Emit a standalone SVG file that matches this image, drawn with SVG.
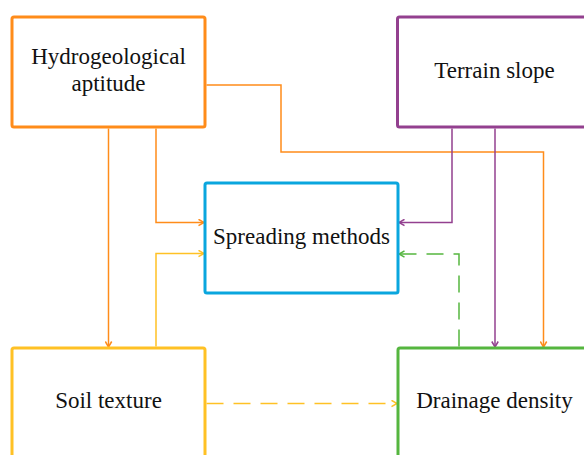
<svg xmlns="http://www.w3.org/2000/svg" width="584" height="455" viewBox="0 0 584 455">
<style>
.box{fill:#fff;stroke-width:3}
.lbl{font-family:"Liberation Serif","Times New Roman",serif;font-size:23px;fill:#111;text-anchor:middle}
.c{fill:none;stroke-width:1.5}
.d{stroke-dasharray:17 10}
.or{stroke:#FF8C1A}.pu{stroke:#93408F}.ye{stroke:#FFC125}.gr{stroke:#55B63F}
</style>
<defs>
<marker id="aor" viewBox="0 0 8 8" markerWidth="8" markerHeight="8" refX="7" refY="4" orient="auto" markerUnits="userSpaceOnUse"><path d="M1.5,0.8 L7,4 L1.5,7.2" fill="none" stroke="#FF8C1A" stroke-width="1.5"/></marker>
<marker id="apu" viewBox="0 0 8 8" markerWidth="8" markerHeight="8" refX="7" refY="4" orient="auto" markerUnits="userSpaceOnUse"><path d="M1.5,0.8 L7,4 L1.5,7.2" fill="none" stroke="#93408F" stroke-width="1.5"/></marker>
<marker id="aye" viewBox="0 0 8 8" markerWidth="8" markerHeight="8" refX="7" refY="4" orient="auto" markerUnits="userSpaceOnUse"><path d="M1.5,0.8 L7,4 L1.5,7.2" fill="none" stroke="#FFC125" stroke-width="1.5"/></marker>
<marker id="agr" viewBox="0 0 8 8" markerWidth="8" markerHeight="8" refX="7" refY="4" orient="auto" markerUnits="userSpaceOnUse"><path d="M1.5,0.8 L7,4 L1.5,7.2" fill="none" stroke="#55B63F" stroke-width="1.5"/></marker>
</defs>
<g id="connectors">
<path class="c or" d="M108.5 128.5 V347" marker-end="url(#aor)"/>
<path class="c or" d="M156 128.5 V222.5 H204" marker-end="url(#aor)"/>
<path class="c or" d="M206.5 85 H281 V152 H543.5 V347" marker-end="url(#aor)"/>
<path class="c pu" d="M452 128.5 V222.5 H399" marker-end="url(#apu)"/>
<path class="c pu" d="M495 128.5 V347" marker-end="url(#apu)"/>
<path class="c ye" d="M156 346.5 V253.5 H204" marker-end="url(#aye)"/>
<path class="c ye d" d="M206.5 403.5 H397" marker-end="url(#aye)"/>
<path class="c gr d" d="M459 346.5 V254 H399" marker-end="url(#agr)"/>
</g>
<g id="hydro">
<rect class="box" x="12" y="17" width="193" height="110" rx="2" stroke="#FF8C1A"/>
<text class="lbl" x="108.5" y="63.5">Hydrogeological</text>
<text class="lbl" x="108.5" y="90.5">aptitude</text>
</g>
<g id="terrain">
<rect class="box" x="397.5" y="17" width="193" height="110" rx="2" stroke="#93408F"/>
<text class="lbl" x="494.5" y="77.5">Terrain slope</text>
</g>
<g id="spreading">
<rect class="box" x="205" y="183" width="193" height="110" rx="2" stroke="#0AA6DE"/>
<text class="lbl" x="301.5" y="243.5">Spreading methods</text>
</g>
<g id="soil">
<rect class="box" x="12" y="348" width="193" height="110" rx="2" stroke="#FFC125"/>
<text class="lbl" x="108.5" y="408">Soil texture</text>
</g>
<g id="drainage">
<rect class="box" x="398" y="348" width="193" height="110" rx="2" stroke="#55B63F"/>
<text class="lbl" x="494.5" y="408">Drainage density</text>
</g>
</svg>
